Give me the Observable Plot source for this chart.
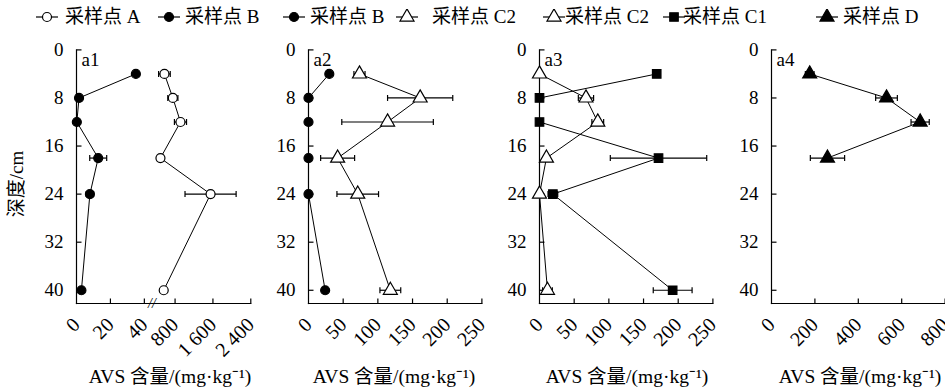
<!DOCTYPE html>
<html><head><meta charset="utf-8">
<script src="https://cdn.jsdelivr.net/npm/d3@7"></script>
<script src="https://cdn.jsdelivr.net/npm/@observablehq/plot@0.6"></script>
<style>
html,body{margin:0;padding:0;background:#fff;overflow:hidden;}
#wrap{position:relative;width:945px;height:392px;overflow:hidden;font-family:"Liberation Serif","Times New Roman","Noto Sans CJK SC",serif;color:#000;}
.panel{position:absolute;top:0;}
.abs{position:absolute;white-space:nowrap;line-height:1;}
.legt{font-size:19px;}
.xt{font-size:19.5px;transform:translate(-50%,-50%);}
.yt{font-size:19px;transform:translate(-50%,-50%) rotate(-90deg);}
</style></head><body><div id="wrap"></div><script>
// ---- data ----
const depths = [4, 8, 12, 18, 24, 40];
const depthsD = [4, 8, 12, 18];
const a1A = [575, 753, 914, 491, 1550, 560];
const a1AErr = [123, 107, 128, 60, 540, 0];
const a1B = [35, 1.5, 0.2, 12.8, 7.9, 2.9];
const a1BErr = [0, 0, 0, 5, 2.2, 0];
const a2B = [30, 0, 0, 0, 0, 24];
const a2BErr = [0, 0, 0, 0, 0, 0];
const a2C2 = [73.5, 161, 114, 42, 71, 118];
const a2C2Err = [8, 47, 66, 24.5, 30, 15];
const a3C1 = [169, 0, 0, 171.6, 19.3, 192];
const a3C1Err = [0, 0, 0, 69.5, 7, 28];
const a3C2 = [0, 67, 84, 10, 0, 11.5];
const a3C2Err = [0, 11, 8.5, 0, 0, 7];
const a4D = [176, 530, 685, 258];
const a4DErr = [20, 50, 42, 79];
const depthTicks = [0, 8, 16, 24, 32, 40];
const depthMax = 42.2;
const a1Ticks = [0, 20, 40, 800, 1600, 2400];
const a1TickLabels = ["0", "20", "40", "800", "1 600", "2 400"];
const a23Ticks = [0, 50, 100, 150, 200, 250];
const a4Ticks = [0, 200, 400, 600, 800];
const legendLabels = ["采样点 A", "采样点 B", "采样点 B", "采样点 C2", "采样点 C2", "采样点 C1", "采样点 D"];
const legendSymbols = ["circle", "circle", "circle", "triangle", "triangle", "square", "triangle"];
const legendFilled = [false, true, true, false, false, true, true];
const panelNames = ["a1", "a2", "a3", "a4"];
const xTitle = "AVS 含量/(mg·kg⁻¹)";
const yTitle = "深度/cm";

// broken axis for a1: low segment [0,40], high segment starts at 330
const lowMax = 40, highStart = 330, gapU = 5, highK = 0.0279;
const brk = v => v <= lowMax ? v : lowMax + gapU + (v - highStart) * highK;
const ident = v => v;

const FONT = '"Liberation Serif","Times New Roman","Noto Sans CJK SC",serif';
const wrap = document.getElementById("wrap");

const capSym = {draw(ctx) { ctx.moveTo(0, -3); ctx.lineTo(0, 3); }};
const yTickSym = {draw(ctx) { ctx.moveTo(0, 0); ctx.lineTo(5, 0); }};
const xTickSym = {draw(ctx) { ctx.moveTo(0, 0); ctx.lineTo(0, -5); }};

const panels = [
  {name: panelNames[0], left: 75.7, right: 250, f: brk, domain: [0, brk(2400)], ticks: a1Ticks, labels: a1TickLabels, brk: true,
   series: [
     {v: a1B, e: a1BErr, d: depths, symbol: "circle", fill: "black", r: 4.5},
     {v: a1A, e: a1AErr, d: depths, symbol: "circle", fill: "white", r: 4.5}
   ]},
  {name: panelNames[1], left: 308.3, right: 481.7, f: ident, domain: [0, 250], ticks: a23Ticks, labels: a23Ticks.map(String),
   series: [
     {v: a2B, e: a2BErr, d: depths, symbol: "circle", fill: "black", r: 4.5},
     {v: a2C2, e: a2C2Err, d: depths, symbol: "triangle", fill: "white", r: 5.2}
   ]},
  {name: panelNames[2], left: 539.3, right: 712.7, f: ident, domain: [0, 250], ticks: a23Ticks, labels: a23Ticks.map(String),
   series: [
     {v: a3C1, e: a3C1Err, d: depths, symbol: "square", fill: "black", r: 4.8},
     {v: a3C2, e: a3C2Err, d: depths, symbol: "triangle", fill: "white", r: 5.2}
   ]},
  {name: panelNames[3], left: 770.7, right: 944.3, f: ident, domain: [0, 800], ticks: a4Ticks, labels: a4Ticks.map(String),
   series: [
     {v: a4D, e: a4DErr, d: depthsD, symbol: "triangle", fill: "black", r: 5.2}
   ]}
];

const MT = 49.4, MB = 89, H = 392, ML = 56, MR = 16;

panels.forEach(p => {
  const f = p.f;
  const marks = [
    Plot.frame({anchor: "left", stroke: "black", strokeWidth: 1.2}),
    Plot.frame({anchor: "bottom", stroke: "black", strokeWidth: 1.2}),
    Plot.dot(depthTicks, {x: () => p.domain[0], y: d => d, symbol: yTickSym, stroke: "black", strokeWidth: 1.2}),
    Plot.dot(p.ticks.slice(1), {x: d => f(d), y: () => depthMax, symbol: xTickSym, stroke: "black", strokeWidth: 1.2})
  ];
  const labelMap = new Map(p.ticks.map((t, i) => [f(t), p.labels[i]]));
  marks.push(Plot.axisY({ticks: depthTicks, tickSize: 0, tickPadding: 13, fontSize: 19, tickFormat: d => String(d), label: null}));
  marks.push(Plot.axisX({ticks: p.ticks.map(f), tickSize: 0, tickPadding: 18, tickRotate: -45, fontSize: 20,
    tickFormat: u => labelMap.get(u), label: null}));
  for (const s of p.series) {
    const rows = s.v.map((v, i) => ({x: f(v), y: s.d[i], lo: f(v - s.e[i]), hi: f(v + s.e[i]), e: s.e[i]}));
    const er = rows.filter(r => r.e > 0);
    const caps = er.flatMap(r => [{x: r.lo, y: r.y}, {x: r.hi, y: r.y}]);
    marks.push(Plot.line(rows, {x: "x", y: "y", stroke: "black", strokeWidth: 1}));
    marks.push(Plot.link(er, {x1: "lo", x2: "hi", y1: "y", y2: "y", stroke: "black", strokeWidth: 1.2}));
    marks.push(Plot.dot(caps, {x: "x", y: "y", symbol: capSym, stroke: "black", strokeWidth: 1.2}));
    marks.push(Plot.dot(rows, {x: "x", y: "y", symbol: s.symbol, r: s.r, fill: s.fill, stroke: "black", strokeWidth: 1.2}));
  }
  if (p.brk) {
    marks.push(Plot.text([lowMax + gapU - 0.5], {x: d => d, y: () => depthMax, text: () => "//", fontSize: 14, fontStyle: "italic", fill: "black"}));
  }
  marks.push(Plot.text([p.name], {frameAnchor: "top-left", dx: 5, dy: 3, text: d => d, fontSize: 19, fill: "black"}));
  const chart = Plot.plot({
    width: ML + (p.right - p.left) + MR, height: H,
    marginLeft: ML, marginRight: MR, marginTop: MT, marginBottom: MB,
    style: {fontFamily: FONT, background: "transparent", color: "black", overflow: "visible"},
    x: {domain: p.domain, axis: null},
    y: {domain: [0, depthMax], reverse: true, axis: null},
    marks
  });
  chart.classList.add("panel");
  chart.style.left = (p.left - ML) + "px";
  wrap.appendChild(chart);
});

// axis titles
const xCenters = [170, 394, 627, 860];
xCenters.forEach(cx => {
  const d = document.createElement("div");
  d.className = "abs xt"; d.textContent = xTitle;
  d.style.left = cx + "px"; d.style.top = "377px";
  wrap.appendChild(d);
});
const yl = document.createElement("div");
yl.className = "abs yt"; yl.textContent = yTitle;
yl.style.left = "16px"; yl.style.top = "184px";
wrap.appendChild(yl);

// legend
const symLeft = [35, 157, 282, 395, 542, 662, 815];
const textLeft = [65, 185, 310, 432, 565, 683, 843];
legendLabels.forEach((lab, i) => {
  const svg = d3.create("svg").attr("width", 24).attr("height", 16)
    .style("position", "absolute").style("left", symLeft[i] + "px").style("top", "9px");
  svg.append("line").attr("x1", 1).attr("x2", 23).attr("y1", 8).attr("y2", 8).attr("stroke", "black").attr("stroke-width", 1.2);
  const type = legendSymbols[i] === "circle" ? d3.symbolCircle : legendSymbols[i] === "square" ? d3.symbolSquare : d3.symbolTriangle;
  const r = legendSymbols[i] === "circle" ? 4.5 : legendSymbols[i] === "square" ? 4.8 : 5.2;
  svg.append("path").attr("d", d3.symbol(type, Math.PI * r * r)()).attr("transform", "translate(12,8)")
    .attr("fill", legendFilled[i] ? "black" : "white").attr("stroke", "black").attr("stroke-width", 1.2);
  wrap.appendChild(svg.node());
  const t = document.createElement("div");
  t.className = "abs legt"; t.textContent = lab;
  t.style.left = textLeft[i] + "px"; t.style.top = "7px";
  wrap.appendChild(t);
});
</script></body></html>
